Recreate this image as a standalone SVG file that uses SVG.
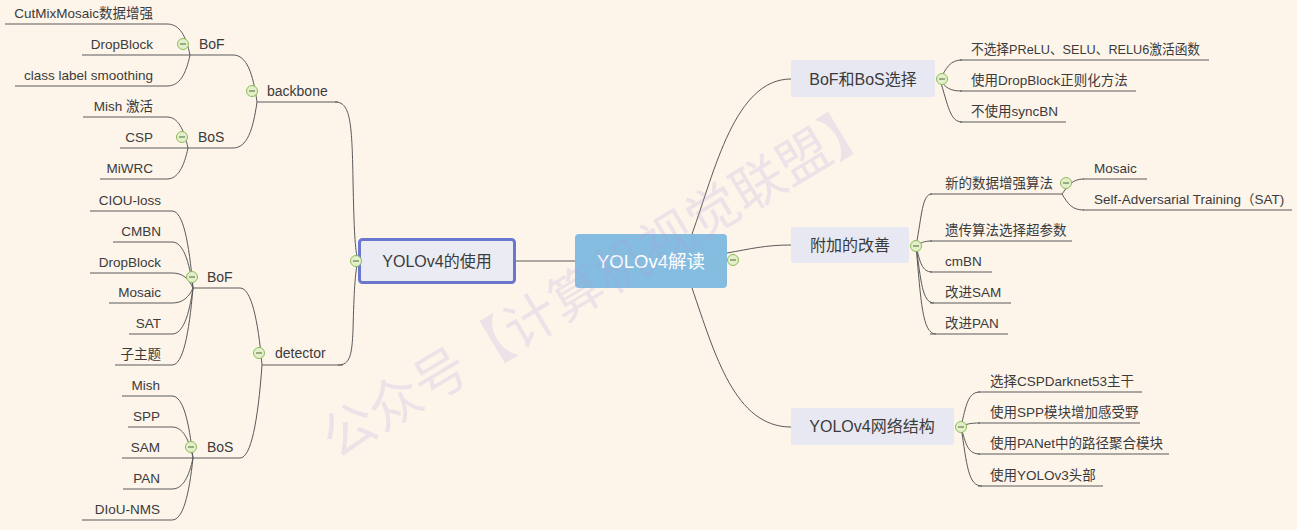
<svg xmlns="http://www.w3.org/2000/svg" xmlns:xlink="http://www.w3.org/1999/xlink" width="1297" height="530" viewBox="0 0 1297 530">
<defs>
<style>
.t{font-family:"Liberation Sans","Noto Sans CJK SC",sans-serif;fill:#3b3b3b}
.leaf{font-size:13.5px}
.mid{font-size:14px}
.main{font-size:16px}
.ul{stroke:#5a5a5a;stroke-width:1;fill:none}
.ln{stroke:#5a5a5a;stroke-width:1;fill:none}
.box{fill:#e8e8f2}
.e{text-anchor:end}
.m{text-anchor:middle}
</style>
<g id="tg"><circle r="5.5" fill="#e3f0cb" stroke="#8cbd58" stroke-width="1"/><line x1="-3" y1="0" x2="3" y2="0" stroke="#4e6a34" stroke-width="1"/></g>
</defs>
<rect width="1297" height="530" fill="#fdf4ea"/>

<g id="connectors">
<path class="ln" d="M516 261 L575 261"/>
<path class="ln" d="M692 234 C715 170 735 79 791 79"/>
<path class="ln" d="M727 253 C750 249 765 245 791 245"/>
<path class="ln" d="M692 288 C715 355 735 427 791 427"/>
<path class="ln" d="M358 261 C355 250 354 230 353 180 C352 120 350 102 335 102"/>
<path class="ln" d="M358 261 C355 272 354 292 353 330 C352 355 350 365 338 365"/>
<path class="ln" d="M257 102 C253 73.8 247 55 233 55"/>
<path class="ln" d="M257 102 C253 130.2 247 148 233 148"/>
<path class="ln" d="M190 55 C186 36.4 180 24 167 24"/>
<path class="ln" d="M190 55 C186 73.6 180 86 167 86"/>
<path class="ln" d="M188 148 C184 129.4 178 117 167 117"/>
<path class="ln" d="M188 148 C184 166.6 178 179 167 179"/>
<path class="ln" d="M262 365 C258 318.8 251 288 240 288"/>
<path class="ln" d="M262 365 C258 420.8 251 458 240 458"/>
<path class="ln" d="M193 288 C189 241.8 183 211 172 211"/>
<path class="ln" d="M193 288 C189 260.4 183 242 172 242"/>
<path class="ln" d="M193 288 C189 279 183 273 172 273"/>
<path class="ln" d="M193 288 C189 297 183 303 172 303"/>
<path class="ln" d="M193 288 C189 315.6 183 334 172 334"/>
<path class="ln" d="M193 288 C189 334.2 183 365 172 365"/>
<path class="ln" d="M193 458 C189 420.8 183 396 172 396"/>
<path class="ln" d="M193 458 C189 439.4 183 427 172 427"/>
<path class="ln" d="M193 458 C189 476.6 183 489 172 489"/>
<path class="ln" d="M193 458 C189 495.2 183 520 172 520"/>
<path class="ln" d="M940 80 C946 68 950 60 962 60"/>
<path class="ln" d="M940 80 C946 88 950 91 962 91"/>
<path class="ln" d="M940 80 C948 105 950 122 962 122"/>
<path class="ln" d="M916 246 C922 215 922 194 932 194"/>
<path class="ln" d="M916 246 C920 243 924 241 932 241"/>
<path class="ln" d="M916 246 C920 262 922 272 932 272"/>
<path class="ln" d="M916 246 C921 280 922 303 934 303"/>
<path class="ln" d="M916 246 C921 300 922 334 936 334"/>
<path class="ln" d="M1062 194 C1068 186 1072 179 1084 179"/>
<path class="ln" d="M1062 194 C1068 204 1072 210 1084 210"/>
<path class="ln" d="M961 427 C966 405 968 392 980 392"/>
<path class="ln" d="M961 427 C966 424 970 423 980 423"/>
<path class="ln" d="M961 427 C966 445 968 454 980 454"/>
<path class="ln" d="M961 427 C967 465 968 486 982 486"/>
</g>

<g id="root">
<rect x="575" y="234" width="152" height="54" rx="4" fill="#84bddf"/>
<text class="t m" x="651" y="267.5" style="font-size:18.5px;fill:#ffffff">YOLOv4解读</text>
<use xlink:href="#tg" x="733" y="260"/>
</g>

<g id="use">
<rect x="359.5" y="239.5" width="155" height="43" rx="3" fill="#ebebf4" stroke="#6b76cf" stroke-width="3"/>
<text class="t main m" x="437" y="266.5">YOLOv4的使用</text>
<use xlink:href="#tg" x="356" y="261"/>
</g>

<g id="backbone">
<line class="ul" x1="257" y1="102" x2="338" y2="102"/>
<text class="t mid" x="267" y="96">backbone</text>
<use xlink:href="#tg" x="252" y="91"/>
</g>
<g id="bb-bof">
<line class="ul" x1="190" y1="55" x2="233" y2="55"/>
<text class="t mid" x="199" y="49">BoF</text>
<use xlink:href="#tg" x="183" y="44"/>
</g>
<g id="bb-bos">
<line class="ul" x1="188" y1="148" x2="233" y2="148"/>
<text class="t mid" x="198" y="142">BoS</text>
<use xlink:href="#tg" x="182" y="137"/>
</g>
<g id="leaf-cutmix"><line class="ul" x1="5" y1="24" x2="167" y2="24"/><text class="t leaf e" x="153" y="17.5">CutMixMosaic数据增强</text></g>
<g id="leaf-dropblock1"><line class="ul" x1="82" y1="55" x2="190" y2="55"/><text class="t leaf e" x="153" y="48.5">DropBlock</text></g>
<g id="leaf-cls"><line class="ul" x1="15" y1="86" x2="167" y2="86"/><text class="t leaf e" x="153" y="79.5">class label smoothing</text></g>
<g id="leaf-mish1"><line class="ul" x1="83" y1="117" x2="167" y2="117"/><text class="t leaf e" x="153" y="110.5">Mish 激活</text></g>
<g id="leaf-csp"><line class="ul" x1="120" y1="148" x2="188" y2="148"/><text class="t leaf e" x="153" y="141.5">CSP</text></g>
<g id="leaf-miwrc"><line class="ul" x1="100" y1="179" x2="167" y2="179"/><text class="t leaf e" x="153" y="172.5">MiWRC</text></g>

<g id="detector">
<line class="ul" x1="262" y1="365" x2="343" y2="365"/>
<text class="t mid" x="275" y="358">detector</text>
<use xlink:href="#tg" x="259" y="353"/>
</g>
<g id="dt-bof">
<line class="ul" x1="193" y1="288" x2="240" y2="288"/>
<text class="t mid" x="207" y="282">BoF</text>
<use xlink:href="#tg" x="192" y="277"/>
</g>
<g id="dt-bos">
<line class="ul" x1="193" y1="458" x2="240" y2="458"/>
<text class="t mid" x="207" y="452">BoS</text>
<use xlink:href="#tg" x="191" y="447"/>
</g>
<g id="leaf-ciou"><line class="ul" x1="90" y1="211" x2="172" y2="211"/><text class="t leaf e" x="161" y="204.5">CIOU-loss</text></g>
<g id="leaf-cmbn"><line class="ul" x1="113" y1="242" x2="172" y2="242"/><text class="t leaf e" x="161" y="235.5">CMBN</text></g>
<g id="leaf-dropblock2"><line class="ul" x1="90" y1="273" x2="172" y2="273"/><text class="t leaf e" x="161" y="266.5">DropBlock</text></g>
<g id="leaf-mosaic1"><line class="ul" x1="109" y1="303" x2="172" y2="303"/><text class="t leaf e" x="161" y="296.5">Mosaic</text></g>
<g id="leaf-sat"><line class="ul" x1="129" y1="334" x2="172" y2="334"/><text class="t leaf e" x="161" y="327.5">SAT</text></g>
<g id="leaf-sub"><line class="ul" x1="115" y1="365" x2="172" y2="365"/><text class="t leaf e" x="161" y="358.5">子主题</text></g>
<g id="leaf-mish2"><line class="ul" x1="122" y1="396" x2="172" y2="396"/><text class="t leaf e" x="160" y="389.5">Mish</text></g>
<g id="leaf-spp"><line class="ul" x1="128" y1="427" x2="172" y2="427"/><text class="t leaf e" x="160" y="420.5">SPP</text></g>
<g id="leaf-sam"><line class="ul" x1="122" y1="458" x2="193" y2="458"/><text class="t leaf e" x="160" y="451.5">SAM</text></g>
<g id="leaf-pan"><line class="ul" x1="123" y1="489" x2="172" y2="489"/><text class="t leaf e" x="160" y="482.5">PAN</text></g>
<g id="leaf-diou"><line class="ul" x1="82" y1="520" x2="172" y2="520"/><text class="t leaf e" x="160" y="513.5">DIoU-NMS</text></g>

<g id="bofbos">
<rect class="box" x="791" y="60" width="144" height="37" rx="2"/>
<text class="t main m" x="863" y="84.5">BoF和BoS选择</text>
<use xlink:href="#tg" x="942" y="79"/>
</g>
<g id="leaf-r1"><line class="ul" x1="960" y1="60" x2="1209" y2="60"/><text class="t leaf" x="971" y="53.5" textLength="229" lengthAdjust="spacingAndGlyphs">不选择PReLU、SELU、RELU6激活函数</text></g>
<g id="leaf-r2"><line class="ul" x1="960" y1="91" x2="1136" y2="91"/><text class="t leaf" x="971" y="84.5">使用DropBlock正则化方法</text></g>
<g id="leaf-r3"><line class="ul" x1="960" y1="122" x2="1066" y2="122"/><text class="t leaf" x="971" y="115.5">不使用syncBN</text></g>

<g id="extra">
<rect class="box" x="791" y="227" width="118" height="36" rx="2"/>
<text class="t main m" x="850" y="250.5">附加的改善</text>
<use xlink:href="#tg" x="916" y="246"/>
</g>
<g id="leaf-newaug">
<line class="ul" x1="930" y1="194" x2="1062" y2="194"/>
<text class="t leaf" x="945" y="187.5">新的数据增强算法</text>
<use xlink:href="#tg" x="1066" y="183"/>
</g>
<g id="leaf-mosaic2"><line class="ul" x1="1083" y1="179" x2="1147" y2="179"/><text class="t leaf" x="1094" y="172.5">Mosaic</text></g>
<g id="leaf-sat2"><line class="ul" x1="1083" y1="210" x2="1292" y2="210"/><text class="t leaf" x="1094" y="203.5">Self-Adversarial Training（SAT)</text></g>
<g id="leaf-ga"><line class="ul" x1="930" y1="241" x2="1072" y2="241"/><text class="t leaf" x="945" y="234.5">遗传算法选择超参数</text></g>
<g id="leaf-cmbn2"><line class="ul" x1="930" y1="272" x2="992" y2="272"/><text class="t leaf" x="945" y="265.5">cmBN</text></g>
<g id="leaf-sam2"><line class="ul" x1="930" y1="303" x2="1011" y2="303"/><text class="t leaf" x="945" y="296.5">改进SAM</text></g>
<g id="leaf-pan2"><line class="ul" x1="930" y1="334" x2="1008" y2="334"/><text class="t leaf" x="945" y="327.5">改进PAN</text></g>

<g id="net">
<rect class="box" x="791" y="408" width="163" height="37" rx="2"/>
<text class="t main m" x="872" y="432">YOLOv4网络结构</text>
<use xlink:href="#tg" x="961" y="427"/>
</g>
<g id="leaf-n1"><line class="ul" x1="978" y1="392" x2="1142" y2="392"/><text class="t leaf" x="990" y="385.5">选择CSPDarknet53主干</text></g>
<g id="leaf-n2"><line class="ul" x1="978" y1="423" x2="1140" y2="423"/><text class="t leaf" x="990" y="416.5">使用SPP模块增加感受野</text></g>
<g id="leaf-n3"><line class="ul" x1="978" y1="454" x2="1169" y2="454"/><text class="t leaf" x="990" y="447.5">使用PANet中的路径聚合模块</text></g>
<g id="leaf-n4"><line class="ul" x1="978" y1="486" x2="1103" y2="486"/><text class="t leaf" x="990" y="479.5">使用YOLOv3头部</text></g>

<g id="watermark" opacity="0.2">
<text x="597" y="276" text-anchor="middle" dominant-baseline="central" transform="rotate(-31 597 276)" style="font-family:'Noto Sans CJK SC',sans-serif;font-size:53px;fill:#b39ddc">公众号【计算机视觉联盟】</text>
</g>
</svg>
